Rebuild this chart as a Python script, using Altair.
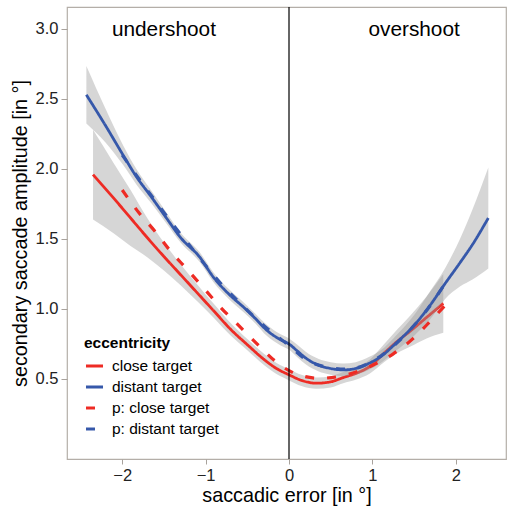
import altair as alt
import pandas as pd

# ---------------- data ----------------
SERIES = ["close target", "distant target", "p: close target", "p: distant target"]
COLORS = ["#EE2B24", "#3658AA", "#EE2B24", "#3658AA"]
DASHES = [[1, 0], [1, 0], [9, 13], [9, 13]]

close_x = [-2.35, -2.1, -1.9, -1.7, -1.5, -1.3, -1.1, -0.9, -0.7, -0.5, -0.3, -0.15,
           0.0, 0.15, 0.33, 0.5, 0.65, 0.8, 0.97, 1.15, 1.3, 1.45, 1.65, 1.85]
close_y = [1.96, 1.79, 1.65, 1.51, 1.375, 1.245, 1.115, 0.985, 0.855, 0.745, 0.64, 0.575,
           0.53, 0.49, 0.47, 0.48, 0.51, 0.54, 0.59, 0.69, 0.77, 0.84, 0.94, 1.04]
close_lo = [1.64, 1.54, 1.45, 1.37, 1.275, 1.17, 1.055, 0.935, 0.81, 0.705, 0.60, 0.535,
            0.49, 0.45, 0.43, 0.44, 0.47, 0.495, 0.54, 0.625, 0.685, 0.73, 0.79, 0.83]
close_hi = [2.28, 2.04, 1.85, 1.65, 1.475, 1.32, 1.175, 1.035, 0.90, 0.785, 0.68, 0.615,
            0.57, 0.53, 0.51, 0.52, 0.55, 0.585, 0.64, 0.755, 0.855, 0.95, 1.09, 1.25]

distant_x = [-2.43, -2.2, -1.99, -1.83, -1.65, -1.47, -1.3, -1.07, -0.91, -0.71, -0.53, -0.4, -0.27,
             -0.1, 0.0, 0.1, 0.2, 0.35, 0.5, 0.65, 0.8, 0.97, 1.1, 1.29, 1.51, 1.69, 1.87, 2.05, 2.2, 2.39]
distant_y = [2.53, 2.31, 2.10, 1.945, 1.80, 1.65, 1.51, 1.37, 1.23, 1.10, 1.005, 0.93, 0.85,
             0.78, 0.75, 0.70, 0.65, 0.60, 0.575, 0.565, 0.575, 0.615, 0.66, 0.76, 0.89, 1.025, 1.18, 1.33, 1.46, 1.65]
distant_lo = [2.325, 2.19, 2.03, 1.89, 1.755, 1.61, 1.475, 1.335, 1.195, 1.065, 0.97, 0.895, 0.81,
              0.74, 0.71, 0.655, 0.605, 0.555, 0.53, 0.52, 0.53, 0.57, 0.615, 0.705, 0.815, 0.925, 1.07, 1.16, 1.21, 1.29]
distant_hi = [2.735, 2.43, 2.17, 2.00, 1.845, 1.69, 1.545, 1.405, 1.265, 1.135, 1.04, 0.965, 0.89,
              0.82, 0.79, 0.745, 0.695, 0.645, 0.62, 0.61, 0.62, 0.66, 0.705, 0.815, 0.965, 1.125, 1.29, 1.50, 1.71, 2.01]

p_close_x = [-2.0, -1.79, -1.6, -1.43, -1.21, -1.01, -0.81, -0.61, -0.39, -0.17, 0.09, 0.37, 0.69,
             1.01, 1.25, 1.49, 1.69, 1.91]
p_close_y = [1.85, 1.68, 1.55, 1.42, 1.275, 1.14, 1.005, 0.886, 0.755, 0.63, 0.535, 0.505, 0.53,
             0.60, 0.68, 0.79, 0.91, 1.05]

p_distant_x = [-2.0, -1.8, -1.6, -1.4, -1.2, -1.0, -0.8, -0.6, -0.4, -0.2, 0.0, 0.2, 0.45, 0.7,
               0.95, 1.2, 1.45, 1.65, 1.88]
p_distant_y = [2.10, 1.93, 1.77, 1.61, 1.46, 1.31, 1.17, 1.05, 0.935, 0.83, 0.74, 0.64, 0.585, 0.57,
               0.61, 0.71, 0.85, 0.99, 1.19]

X_TICKS = [-2, -1, 0, 1, 2]
Y_TICKS = [0.5, 1.0, 1.5, 2.0, 2.5, 3.0]
X_DOMAIN = [-2.662, 2.602]
Y_DOMAIN = [-0.0714, 3.157]
REGION_LABELS = ["undershoot", "overshoot"]
REGION_X = [-1.5, 1.5]
REGION_Y = [2.99, 2.99]
ZERO_LINE = [0.0]

FONT = "Liberation Sans"

# ---------------- tables ----------------
lines = pd.concat([
    pd.DataFrame({"x": close_x, "y": close_y, "series": SERIES[0]}),
    pd.DataFrame({"x": distant_x, "y": distant_y, "series": SERIES[1]}),
    pd.DataFrame({"x": p_close_x, "y": p_close_y, "series": SERIES[2]}),
    pd.DataFrame({"x": p_distant_x, "y": p_distant_y, "series": SERIES[3]}),
], ignore_index=True)
close_band = pd.DataFrame({"x": close_x, "lo": close_lo, "hi": close_hi})
distant_band = pd.DataFrame({"x": distant_x, "lo": distant_lo, "hi": distant_hi})
labels = pd.DataFrame({"x": REGION_X, "y": REGION_Y, "t": REGION_LABELS})
zero = pd.DataFrame({"x": ZERO_LINE})

xs = alt.Scale(domain=X_DOMAIN, nice=False, zero=False)
ys = alt.Scale(domain=Y_DOMAIN, nice=False, zero=False)

x_axis = alt.Axis(values=X_TICKS, format="d", title="saccadic error [in °]")
y_axis = alt.Axis(values=Y_TICKS, format=".1f", title="secondary saccade amplitude [in °]")

color_enc = alt.Color(
    "series:N",
    scale=alt.Scale(domain=SERIES, range=COLORS),
    legend=alt.Legend(
        title="eccentricity", orient="none", legendX=17, legendY=329,
        titleFontSize=15.5, titleFontWeight="bold", titleFont=FONT, titleColor="#000000",
        labelFontSize=15.5, labelFont=FONT, labelColor="#000000",
        symbolType="stroke", symbolSize=290, symbolStrokeWidth=3,
        rowPadding=2, labelOffset=7, titlePadding=4,
    ),
)
dash_enc = alt.StrokeDash(
    "series:N",
    scale=alt.Scale(domain=SERIES, range=DASHES),
    legend=alt.Legend(
        title="eccentricity", orient="none", legendX=17, legendY=329,
    ),
)


def band(df):
    return alt.Chart(df).mark_area(interpolate="monotone", color="#999999", opacity=0.4).encode(
        x=alt.X("x:Q", scale=xs, axis=x_axis),
        y=alt.Y("lo:Q", scale=ys, axis=y_axis),
        y2="hi:Q",
    )


def line(name, width):
    return alt.Chart(lines).transform_filter(alt.datum.series == name).mark_line(
        interpolate="monotone", strokeWidth=width
    ).encode(
        x=alt.X("x:Q", scale=xs, axis=x_axis),
        y=alt.Y("y:Q", scale=ys, axis=y_axis),
        color=color_enc,
        strokeDash=dash_enc,
    )


rule = alt.Chart(zero).mark_rule(color="#000000", strokeWidth=1.2).encode(x=alt.X("x:Q", scale=xs))
text = alt.Chart(labels).mark_text(font=FONT, fontSize=20.8, color="#000000", baseline="middle").encode(
    x=alt.X("x:Q", scale=xs), y=alt.Y("y:Q", scale=ys), text="t:N"
)

chart = alt.layer(
    band(close_band),
    line(SERIES[0], 2.8),
    band(distant_band),
    line(SERIES[1], 2.8),
    line(SERIES[2], 3.2),
    line(SERIES[3], 3.2),
    rule,
    text,
).properties(
    width=439, height=452,
    padding={"left": 67, "top": 7, "right": 1, "bottom": 51},
    autosize="none",
    background="#ffffff",
).configure_view(
    stroke="#b4aea8", strokeWidth=1.2
).configure_axis(
    domain=False, grid=False, tickColor="#a8a29c", labelFont=FONT, titleFont=FONT,
    labelFontSize=16.5, labelColor="#222222", titleFontSize=19.8, titleColor="#000000",
    titleFontWeight="normal",
).configure_axisX(
    tickSize=5, labelPadding=3, titlePadding=2,
).configure_axisY(
    tickSize=6, labelPadding=3, titlePadding=5,
)

chart.save("out.html", embed_options={"renderer": "svg", "actions": False})
